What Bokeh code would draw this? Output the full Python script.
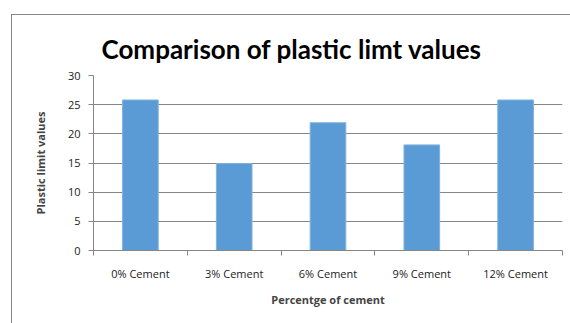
from bokeh.plotting import figure
from bokeh.models import Range1d, FixedTicker
from bokeh.embed import file_html
from bokeh.resources import INLINE

categories = ["0% Cement", "3% Cement", "6% Cement", "9% Cement", "12% Cement"]
values = [25.8, 14.9, 21.9, 18.1, 25.8]
y_ticks = [0, 5, 10, 15, 20, 25, 30]

x_centers = [i + 0.5 for i in range(len(categories))]
x_bounds = list(range(len(categories) + 1))

p = figure(width=558, height=308, output_backend="svg", toolbar_location=None,
           x_range=Range1d(0, len(categories)), y_range=Range1d(0, 30),
           min_border_left=81, min_border_right=8, min_border_top=60, min_border_bottom=73)
p.margin = (15, 0, 0, 12)
p.styles = {"outline": "1px solid #868686"}

p.vbar(x=x_centers, top=values, width=0.38, fill_color="#5B9BD5", line_color="#7FB2E0", line_width=1)

p.outline_line_color = None
p.background_fill_color = "white"
p.border_fill_color = "white"

# title
p.title.text = "Comparison of plastic limt values"
p.title.text_font = "Lato"
p.title.text_font_style = "bold"
p.title.text_font_size = "26px"
p.title.align = "left"
p.title.offset = 8
p.title.standoff = 22
p.title.text_color = "black"

# x axis
xa = p.xaxis[0]
xa.ticker = FixedTicker(ticks=x_centers, minor_ticks=x_bounds)
xa.major_label_overrides = {c: lab for c, lab in zip(x_centers, categories)}
xa.major_tick_out = 0
xa.major_tick_in = 0
xa.minor_tick_out = 5
xa.minor_tick_in = 0
xa.minor_tick_line_color = "#868686"
xa.axis_line_color = "#868686"
xa.major_label_standoff = 10
xa.major_label_text_font = "Open Sans"
xa.major_label_text_font_size = "11px"
xa.major_label_text_color = "#222222"
xa.axis_label = "Percentge of cement"
xa.axis_label_text_font = "Open Sans"
xa.axis_label_text_font_style = "bold"
xa.axis_label_text_font_size = "11px"
xa.axis_label_standoff = 8

# y axis
ya = p.yaxis[0]
ya.ticker = FixedTicker(ticks=y_ticks, minor_ticks=[])
ya.major_tick_out = 5
ya.major_tick_in = 0
ya.major_tick_line_color = "#868686"
ya.axis_line_color = "#868686"
ya.major_label_standoff = 8
ya.major_label_text_font = "Open Sans"
ya.major_label_text_font_size = "11px"
ya.major_label_text_color = "#222222"
ya.axis_label = "Plastic limit values"
ya.axis_label_text_font = "Open Sans"
ya.axis_label_text_font_style = "bold"
ya.axis_label_text_font_size = "11px"
ya.axis_label_standoff = 17

p.xgrid.grid_line_color = None
p.ygrid.ticker = FixedTicker(ticks=y_ticks)
p.ygrid.grid_line_color = "#868686"
p.ygrid.grid_line_width = 1

open("out.html", "w").write(file_html(p, INLINE))
